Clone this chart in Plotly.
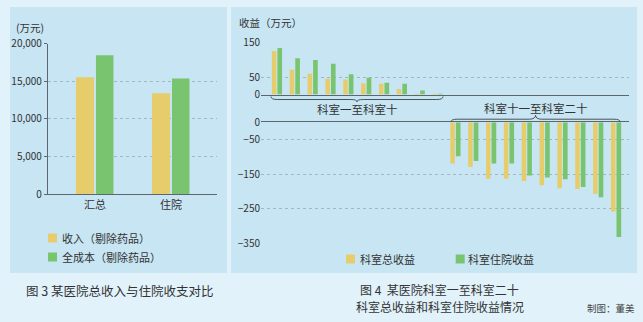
import plotly.graph_objects as go

# ---- data ----
left_categories = ["汇总", "住院"]
income_ex_drug = [15550, 13420]       # 收入（剔除药品）
full_cost_ex_drug = [18470, 15360]    # 全成本（剔除药品）
left_ticks = [0, 5000, 10000, 15000, 20000]

dept_top = list(range(1, 11))          # 科室一至科室十
dept_top_total = [126, 72, 60, 46, 44, 33, 31, 16, 2, 2]
dept_top_inpatient = [135, 105, 100, 89, 59, 49, 34, 31, 12, 2]
dept_bottom = list(range(11, 21))      # 科室十一至科室二十
dept_bottom_total = [-119, -129, -163, -163, -170, -182, -191, -193, -207, -258]
dept_bottom_inpatient = [-98, -112, -119, -119, -154, -160, -165, -187, -217, -332]
top_ticks = [0, 50, 150]
bottom_ticks = [0, -50, -150, -250, -350]

W, H = 643, 322
YELLOW = "#e6cc6a"
GREEN = "#79c46f"
OUTER_BG = "#e1f2fa"
PANEL_BG = "#c7e5f2"
TEXT = "#333333"
GRID = "#a3b6c0"
AXIS = "#5c666c"
FONT = "Noto Sans CJK SC"


def px(x):
    return x / W


def py(y):
    return 1 - y / H


fig = go.Figure()

# left chart: income vs full cost
fig.add_trace(go.Bar(x=left_categories, y=income_ex_drug, name="收入（剔除药品）",
                     marker=dict(color=YELLOW, line=dict(width=0)),
                     offset=-0.25, width=0.237, xaxis="x", yaxis="y"))
fig.add_trace(go.Bar(x=left_categories, y=full_cost_ex_drug, name="全成本（剔除药品）",
                     marker=dict(color=GREEN, line=dict(width=0)),
                     offset=0.013, width=0.23, xaxis="x", yaxis="y"))

# right chart: departments with positive / negative return
for xs, tot, inp, xa, ya in [(dept_top, dept_top_total, dept_top_inpatient, "x2", "y2"),
                             (dept_bottom, dept_bottom_total, dept_bottom_inpatient, "x3", "y3")]:
    fig.add_trace(go.Bar(x=xs, y=tot, name="科室总收益", marker=dict(color=YELLOW, line=dict(width=0)),
                         offset=-0.29, width=0.25, xaxis=xa, yaxis=ya))
    fig.add_trace(go.Bar(x=xs, y=inp, name="科室住院收益", marker=dict(color=GREEN, line=dict(width=0)),
                         offset=0.02, width=0.26, xaxis=xa, yaxis=ya))

tickfont = dict(family=FONT, size=10, color=TEXT)
right_xrange = [0.1, 20.72]

fig.update_layout(
    width=W, height=H,
    autosize=False,
    margin=dict(l=0, r=0, t=0, b=0, pad=0, autoexpand=False),
    paper_bgcolor=OUTER_BG,
    plot_bgcolor="rgba(0,0,0,0)",
    barmode="overlay",
    showlegend=False,
    font=dict(family=FONT, color=TEXT),
    xaxis=dict(domain=[px(48), px(217)], type="category", range=[-0.618, 1.605],
               anchor="y", showline=True, linecolor=AXIS, linewidth=1.2, ticks="",
               tickfont=dict(family=FONT, size=11, color=TEXT), showgrid=False,
               automargin=False),
    yaxis=dict(domain=[py(194.2), py(43.7)], range=[0, 20000], anchor="x",
               tickvals=left_ticks, tickformat=",", tickfont=tickfont,
               showgrid=True, gridcolor=GRID, griddash="dot", gridwidth=1,
               showline=True, linecolor=AXIS, linewidth=1.2,
               ticks="outside", ticklen=3, tickcolor=AXIS, zeroline=False,
               automargin=False),
    xaxis2=dict(domain=[px(261), px(629)], range=right_xrange, anchor="y2",
                showline=True, linecolor=AXIS, linewidth=1.2, ticks="",
                showticklabels=False, showgrid=False, zeroline=False, automargin=False),
    yaxis2=dict(domain=[py(94.6), py(42.7)], range=[0, 150], anchor="x2",
                tickvals=top_ticks, tickfont=tickfont, showgrid=True,
                gridcolor=GRID, griddash="dot", showline=False, zeroline=False, ticks="",
                automargin=False),
    xaxis3=dict(domain=[px(261), px(629)], range=right_xrange, anchor="y3", side="top",
                showline=True, linecolor=AXIS, linewidth=1.2, ticks="",
                showticklabels=False, showgrid=False, zeroline=False, automargin=False),
    yaxis3=dict(domain=[py(243.3), py(122.3)], range=[-350, 0], anchor="x3",
                tickvals=bottom_ticks, tickfont=tickfont, showgrid=True,
                gridcolor=GRID, griddash="dot", showline=False, zeroline=False, ticks="",
                automargin=False),
)

shapes = []
# panel backgrounds
for x0, x1 in [(10, 227), (231, 637)]:
    shapes.append(dict(type="rect", xref="paper", yref="paper", x0=px(x0), x1=px(x1),
                       y0=py(273), y1=py(7), fillcolor=PANEL_BG, line=dict(width=0),
                       layer="below"))


def brace(xa, x0, x1, y_end, y_flat, y_tip, d=0.35):
    """Curly brace path: ends at y_end, flat run at y_flat, centre tip at y_tip."""
    xm = (x0 + x1) / 2
    e, f, t = py(y_end), py(y_flat), py(y_tip)
    path = (f"M {x0},{e} Q {x0},{f} {x0 + d},{f} L {xm - d},{f} "
            f"Q {xm},{f} {xm},{t} Q {xm},{f} {xm + d},{f} L {x1 - d},{f} "
            f"Q {x1},{f} {x1},{e}")
    return dict(type="path", xref=xa, yref="paper", path=path,
                line=dict(color="#4a5358", width=1))


shapes.append(brace("x2", dept_top[0] - 0.34, dept_top[-1] + 0.3, 96.5, 99.5, 101.8))
shapes.append(brace("x3", dept_bottom[0] - 0.25, dept_bottom[-1] + 0.22, 121.8, 119.2, 115.2))

# legend swatches
swatches = [(48, 238, YELLOW), (48, 257, GREEN), (346, 259, YELLOW), (455.7, 259, GREEN)]
for sx, sy, c in swatches:
    shapes.append(dict(type="rect", xref="paper", yref="paper", x0=px(sx), x1=px(sx + 9),
                       y0=py(sy + 4.5), y1=py(sy - 4.5), fillcolor=c, line=dict(width=0)))
fig.update_layout(shapes=shapes)

annotations = []


def label(x, y, text, size, xanchor="left", xref="paper", color=TEXT):
    annotations.append(dict(x=x if xref != "paper" else px(x), y=py(y), xref=xref, yref="paper",
                            text=text, showarrow=False, xanchor=xanchor, yanchor="middle",
                            font=dict(family=FONT, size=size, color=color)))


label(14, 28, "(万元)", 10.5)
label(237, 23, "收益（万元）", 10.5)
label(60, 238, "收入（剔除药品）", 11)
label(60, 257, "全成本（剔除药品）", 11)
label(358, 259, "科室总收益", 11)
label(466, 259, "科室住院收益", 11)
label((dept_top[0] - 0.34 + dept_top[-1] + 0.3) / 2, 109, "科室一至科室十", 11.5,
      xanchor="center", xref="x2")
label((dept_bottom[0] - 0.25 + dept_bottom[-1] + 0.22) / 2, 108, "科室十一至科室二十", 11.5,
      xanchor="center", xref="x3")
label(120, 290, "图 3 某医院总收入与住院收支对比", 12.5, xanchor="center")
label(440, 289, "图 4  某医院科室一至科室二十", 12, xanchor="center")
label(440, 306.5, "科室总收益和科室住院收益情况", 12, xanchor="center")
label(637, 308, "制图：董美", 9.5, xanchor="right", color="#444444")
fig.update_layout(annotations=annotations)

fig.write_html("out.html")
